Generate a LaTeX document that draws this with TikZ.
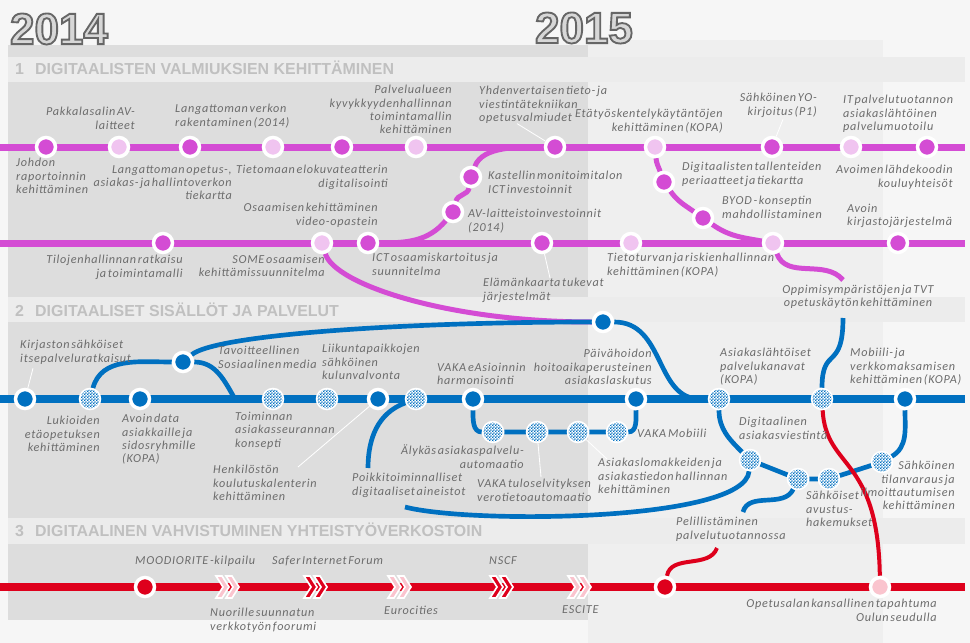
\documentclass[tikz,border=0pt]{standalone}
\usepackage{fontspec}
\usepackage{tikz}
\usetikzlibrary{calc, patterns}
\setmainfont{Carlito}
\newfontfamily\lblfont{Carlito}[LetterSpace=6, WordSpace=0.5]
\newfontfamily\headfont{Liberation Sans}
\definecolor{magline}{RGB}{212,76,212}
\definecolor{maglight}{RGB}{240,196,240}
\definecolor{blueline}{RGB}{0,112,192}
\definecolor{redline}{RGB}{222,0,28}
\definecolor{redlight}{RGB}{250,196,206}
\definecolor{labelgray}{RGB}{108,108,108}
\definecolor{headgray}{RGB}{192,192,192}
\definecolor{panelgray}{RGB}{221,221,221}
\definecolor{bandgray}{RGB}{236,236,236}
\definecolor{paper}{RGB}{246,246,246}
\definecolor{rightgray}{RGB}{239,239,239}
\definecolor{yearfill}{RGB}{215,215,215}
\newcommand\outlined[1]{\special{pdf:literal direct 2 Tr 1.6 w 0.40 G}#1\special{pdf:literal direct 0 Tr}}
\pgfdeclarepatternformonly{finechecker}{\pgfqpoint{0pt}{0pt}}{\pgfqpoint{2.4pt}{2.4pt}}{\pgfqpoint{2.4pt}{2.4pt}}
  {\pgfpathrectangle{\pgfqpoint{0pt}{0pt}}{\pgfqpoint{1.2pt}{1.2pt}}
   \pgfpathrectangle{\pgfqpoint{1.2pt}{1.2pt}}{\pgfqpoint{1.2pt}{1.2pt}}\pgfusepath{fill}}
\pgfdeclarelayer{panels}
\pgfdeclarelayer{tracks}
\pgfsetlayers{panels,tracks,main}
\tikzset{pics/chev/.style={code={
  \foreach \dx in {0,10}
    \filldraw[fill=#1, draw=white, line width=0.05cm, line join=miter]
      (\dx-12,-11) -- (\dx-6,-11) -- (\dx+1,0) -- (\dx-6,11) -- (\dx-12,11) -- (\dx-5,0) -- cycle;
}}}

\begin{document}
\begin{tikzpicture}[x=0.03cm, y=-0.03cm,
    stn/.style={circle, draw=white, line width=0.105cm, minimum size=0.57cm, inner sep=0pt},
    mg/.style={stn, fill=magline},
    mgl/.style={stn, fill=maglight},
    bl/.style={stn, fill=blueline},
    blp/.style={stn, fill=white, postaction={pattern=finechecker, pattern color=blueline}},
    rd/.style={stn, fill=redline},
    rdl/.style={stn, fill=redlight},
    magtrack/.style={draw=magline, line width=0.21cm},
    magbranch/.style={draw=magline, line width=0.15cm},
    bluetrack/.style={draw=blueline, line width=0.24cm},
    bluebranch/.style={draw=blueline, line width=0.14cm},
    redtrack/.style={draw=redline, line width=0.24cm},
    redbranch/.style={draw=redline, line width=0.12cm},
    leader/.style={draw=white, line width=0.025cm},
    lbl/.style={font={\lblfont\itshape\fontsize{10.4}{11.4}\selectfont}, text=labelgray, inner sep=0pt, align=left, anchor=north west},
    lblr/.style={lbl, align=right, anchor=north east},
    head/.style={font={\headfont\bfseries\fontsize{13.6}{16}\selectfont}, text=headgray, inner sep=0pt, anchor=west},
    year/.style={font={\headfont\bfseries\fontsize{37.5}{40}\selectfont}, text=yearfill, inner sep=0pt}]
\useasboundingbox (0,0) rectangle (970,643);

\begin{pgfonlayer}{panels}
\fill[paper] (0,0) rectangle (970,643);
\fill[rightgray] (588,40) rectangle (883,643);
\fill[panelgray] (8,45) rectangle (588,297);
\fill[panelgray] (8,322) rectangle (588,518);
\fill[panelgray] (8,544) rectangle (588,620);
\fill[bandgray] (8,57) rectangle (965,82);
\fill[bandgray] (8,297) rectangle (965,322);
\fill[bandgray] (8,518) rectangle (965,544);
\end{pgfonlayer}

\node[year] (y2014) at (59,29) {\outlined{2014}};
\node[year] (y2015) at (584,28) {\outlined{2015}};
\node[head] (h1) at (15,68) {1\hspace{0.7em}DIGITAALISTEN VALMIUKSIEN KEHITTÄMINEN};
\node[head] (h2) at (15,310) {2\hspace{0.7em}DIGITAALISET SISÄLLÖT JA PALVELUT};
\node[head] (h3) at (15,530) {3\hspace{0.7em}DIGITAALINEN VAHVISTUMINEN YHTEISTYÖVERKOSTOIN};

\coordinate (la0) at (0,147); \coordinate (la1) at (965,147);
\coordinate (lb0) at (0,243); \coordinate (lb1) at (965,243);
\coordinate (lc0) at (0,399); \coordinate (lc1) at (965,399);
\coordinate (ld0) at (0,587); \coordinate (ld1) at (965,587);
\coordinate (c8) at (843,280);
\coordinate (o1) at (843,318);
\coordinate (j1) at (235,399);
\coordinate (j2) at (700,399);
\coordinate (p1) at (368,468);
\coordinate (p2) at (405,507);
\coordinate (g1) at (743,512);
\coordinate (g2) at (717,548);

\node[mg] (a1) at (46,147) {};
\node[mgl] (a2) at (119,147) {};
\node[mg] (a3) at (190,147) {};
\node[mgl] (a4) at (273,147) {};
\node[mg] (a5) at (342,147) {};
\node[mgl] (a6) at (416,147) {};
\node[mg] (a7) at (555,147) {};
\node[mgl] (a8) at (655,147) {};
\node[mg] (a9) at (772,147) {};
\node[mgl] (a10) at (851,147) {};
\node[mg] (a11) at (927,147) {};
\node[mg] (b1) at (664,182) {};
\node[mg] (b2) at (703,218) {};
\node[mg] (c1) at (163,243) {};
\node[mgl] (c2) at (322,243) {};
\node[mg] (c3) at (368,243) {};
\node[mg] (c4) at (542,243) {};
\node[mgl] (c5) at (631,243) {};
\node[mgl] (c6) at (773,243) {};
\node[mg] (c7) at (898,243) {};
\node[mg] (d1) at (453,212) {};
\node[mg] (d2) at (471,177) {};

\node[bl] (m1) at (25,399) {};
\node[blp] (m2) at (90,399) {};
\node[bl] (m3) at (140,399) {};
\node[blp] (m4) at (273,399) {};
\node[blp] (m5) at (327,399) {};
\node[bl] (m6) at (378,399) {};
\node[blp] (m7) at (416,399) {};
\node[bl] (m8) at (473,399) {};
\node[bl] (m9) at (636,399) {};
\node[blp] (m10) at (719,399) {};
\node[blp] (m11) at (822,399) {};
\node[bl] (m12) at (905,399) {};
\node[bl] (s0) at (183,362) {};
\node[bl] (s1) at (603,322) {};
\node[blp] (v1) at (493,432) {};
\node[blp] (v2) at (537,432) {};
\node[blp] (v3) at (578,432) {};
\node[blp] (v4) at (617,432) {};
\node[blp] (e1) at (750,460) {};
\node[blp] (e2) at (798,479) {};
\node[blp] (e3) at (829,479) {};
\node[blp] (e4) at (882,462) {};

\node[rd] (r1) at (145,587) {};
\node[rd] (r2) at (665,587) {};
\node[rdl] (r3) at (880,587) {};
\pic (k1) at (228,587) {chev=redlight};
\pic (k2) at (316,587) {chev=redline};
\pic (k3) at (400,587) {chev=redlight};
\pic (k4) at (502,587) {chev=redline};
\pic (k5) at (580,587) {chev=redlight};

\node[lbl] (l1) at (16,158) {Johdon\\raportoinnin\\kehittäminen};
\node[lblr] (l2) at (135,107) {Pakkalasalin AV-\\laitteet};
\node[lbl] (l3) at (175,104) {Langattoman verkon\\rakentaminen (2014)};
\node[lblr] (l4) at (232,165) {Langattoman opetus-,\\asiakas- ja hallintoverkon\\tiekartta};
\node[lblr] (l5) at (388,165) {Tietomaan elokuvateatterin\\digitalisointi};
\node[lblr] (l6) at (378,203) {Osaamisen kehittäminen\\video-opastein};
\node[lblr] (l7) at (452,85) {Palvelualueen\\kyvykkyydenhallinnan\\toimintamallin\\kehittäminen};
\node[lbl] (l8) at (479,86) {Yhdenvertaisen tieto- ja\\viestintätekniikan\\opetusvalmiudet};
\node[lbl] (l9) at (488,171) {Kastellin monitoimitalon\\ICT investoinnit};
\node[lbl] (l10) at (468,209) {AV-laitteistoinvestoinnit\\(2014)};
\node[lblr] (l11) at (723,109) {Etätyöskentelykäytäntöjen\\kehittäminen (KOPA)};
\node[lblr] (l12) at (817,93) {Sähköinen YO-\\kirjoitus (P1)};
\node[lbl] (l13) at (843,95) {IT palvelutuotannon\\asiakaslähtöinen\\palvelumuotoilu};
\node[lblr] (l14) at (953,165) {Avoimen lähdekoodin\\kouluyhteisöt};
\node[lbl] (l15) at (682,162) {Digitaalisten tallenteiden\\periaatteet ja tiekartta};
\node[lbl] (l16) at (722,196) {BYOD - konseptin\\mahdollistaminen};
\node[lbl] (l17) at (847,204) {Avoin\\kirjastojärjestelmä};
\node[lblr] (l18) at (183,255) {Tilojenhallinnan ratkaisu\\ja toimintamalli};
\node[lblr] (l19) at (325,255) {SOME osaamisen\\kehittämissuunnitelma};
\node[lbl] (l20) at (372,253) {ICT osaamiskartoitus ja\\suunnitelma};
\node[lbl] (l21) at (483,278) {Elämänkaarta tukevat\\järjestelmät};
\node[lbl] (l22) at (607,253) {Tietoturvan ja riskienhallinnan\\kehittäminen (KOPA)};
\node[lbl, align=center, anchor=north] (l23) at (858,285) {Oppimisympäristöjen ja TVT\\opetuskäytön kehittäminen};
\node[lbl] (l24) at (20,340) {Kirjaston sähköiset\\itsepalveluratkaisut};
\node[lbl] (l25) at (218,346) {Tavoitteellinen\\Sosiaalinen media};
\node[lbl] (l26) at (322,344) {Liikuntapaikkojen\\sähköinen\\kulunvalvonta};
\node[lbl] (l27) at (437,363) {VAKA eAsioinnin\\harmonisointi};
\node[lblr] (l28) at (652,349) {Päivähoidon\\hoitoaikaperusteinen\\asiakaslaskutus};
\node[lbl] (l29) at (720,348) {Asiakaslähtöiset\\palvelukanavat\\(KOPA)};
\node[lbl] (l30) at (850,348) {Mobiili- ja\\verkkomaksamisen\\kehittäminen (KOPA)};
\node[lblr] (l31) at (100,416) {Lukioiden\\etäopetuksen\\kehittäminen};
\node[lbl] (l32) at (122,414) {Avoin data\\asiakkaille ja\\sidosryhmille\\(KOPA)};
\node[lbl] (l33) at (235,412) {Toiminnan\\asiakasseurannan\\konsepti};
\node[lbl] (l34) at (213,465) {Henkilöstön\\koulutuskalenterin\\kehittäminen};
\node[lbl] (l35) at (352,473) {Poikkitoiminnalliset\\digitaaliset aineistot};
\node[lblr] (l36) at (524,445) {Älykäs asiakaspalvelu-\\automaatio};
\node[lbl] (l37) at (477,479) {VAKA tuloselvityksen\\verotietoautomaatio};
\node[lbl] (l38) at (598,458) {Asiakaslomakkeiden ja\\asiakastiedon hallinnan\\kehittäminen};
\node[lbl] (l39) at (637,429) {VAKA Mobiili};
\node[lbl] (l40) at (739,417) {Digitaalinen\\asiakasviestintä};
\node[lbl] (l41) at (806,491) {Sähköiset\\avustus-\\hakemukset};
\node[lblr] (l42) at (955,461) {Sähköinen\\tilanvaraus ja\\ilmoittautumisen\\kehittäminen};
\node[lbl] (l43) at (676,517) {Pelillistäminen\\palvelutuotannossa};
\node[lbl] (l44) at (135,556) {MOODIORITE -kilpailu};
\node[lbl] (l45) at (210,608) {Nuorille suunnatun\\verkkotyön foorumi};
\node[lbl] (l46) at (272,556) {Safer Internet Forum};
\node[lbl] (l47) at (384,606) {Eurocities};
\node[lbl] (l48) at (489,556) {NSCF};
\node[lbl] (l49) at (562,605) {ESCITE};
\node[lblr] (l50) at (937,599) {Opetusalan kansallinen tapahtuma\\Oulun seudulla};

\begin{pgfonlayer}{tracks}
\draw[magtrack] (la0) -- (la1);
\draw[magtrack] (lb0) -- (lb1);
\draw[magbranch] (a8) to[out=-85,in=110] (b1) to[out=-55,in=145] (b2) to[out=-35,in=170] (c6);
\draw[magbranch] (c6) to[out=-70,in=130] (c8);
\draw[magbranch] (c3) to[out=0,in=-130] (d1) to[out=75,in=-100] (d2) to[out=70,in=180,looseness=0.8] (a7);
\draw[magbranch] (c2) .. controls (335,285) and (450,322) .. (s1);
\draw[bluetrack] (lc0) -- (lc1);
\draw[bluebranch] (m2) to[out=75,in=180] (s0);
\draw[bluebranch] (s0) to[out=0,in=120] (j1);
\draw[bluebranch] (s0) .. controls (215,335) and (400,322) .. (s1);
\draw[bluebranch] (s1) .. controls (665,322) and (655,399) .. (j2);
\draw[bluebranch] (o1) .. controls (843,372) and (822,345) .. (m11);
\draw[bluebranch] (m8) to[out=-90,in=180] (v1) -- (v2) -- (v3) -- (v4) to[out=0,in=-90] (m9);
\draw[bluebranch] (m7) to[out=200,in=90] (p1);
\draw[bluebranch] (p2) .. controls (470,524) and (745,522) .. (e1);
\draw[bluebranch] (m10) to[out=-90,in=135] (e1) -- (e2) -- (e3) -- (e4) to[out=30,in=-90] (m12);
\draw[bluebranch] (e2) to[out=-115,in=75] (g1);
\draw[redtrack] (ld0) -- (ld1);
\draw[redbranch] (m11) .. controls (826,470) and (878,455) .. (r3);
\draw[redbranch] (r2) to[out=80,in=-110] (g2);
\draw[leader] ($(l8.south west)+(38,0)$) -- (a7);
\draw[leader] ($(l12.south east)+(-34,2)$) -- (a9);
\draw[leader] ($(l21.north west)+(67,0)$) -- (c4);
\draw[leader] ($(l24.south west)+(13,4)$) -- (m1);
\draw[leader] ($(l34.north west)+(85,2)$) -- (m6);
\draw[leader] ($(l37.north west)+(64,-2)$) -- (v2);
\draw[leader] ($(l38.north west)+(9,1)$) -- (v3);
\end{pgfonlayer}
\end{tikzpicture}
\end{document}
